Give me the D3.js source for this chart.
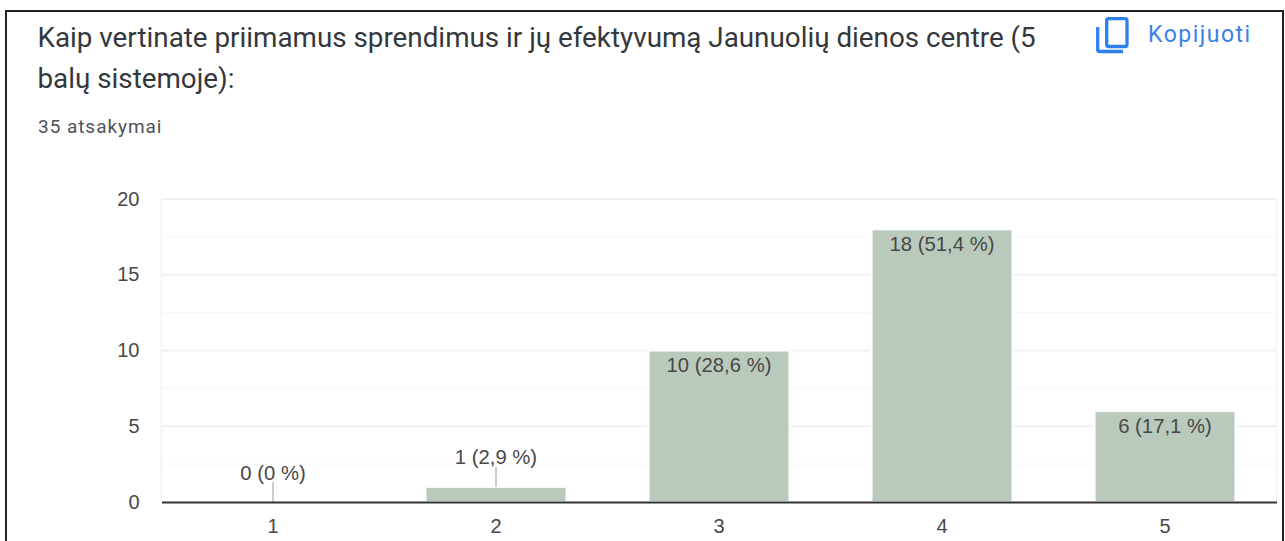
<!DOCTYPE html>
<html><head><meta charset="utf-8">
<script src="https://cdn.jsdelivr.net/npm/d3@7"></script>
<style>html,body{margin:0;padding:0;background:#fff;overflow:hidden}svg{display:block}text{font-family:Roboto,sans-serif}</style>
</head><body><svg id="c" width="1285" height="541"></svg>
<script>
const categories=["1","2","3","4","5"];
const counts=[0,1,10,18,6];
const labels=["0 (0 %)","1 (2,9 %)","10 (28,6 %)","18 (51,4 %)","6 (17,1 %)"];
const yTicks=[0,5,10,15,20];
const minorTicks=[2.5,7.5,12.5,17.5];
const titleLines=["Kaip vertinate priimamus sprendimus ir jų efektyvumą Jaunuolių dienos centre (5","balų sistemoje):"];
const subtitle="35 atsakymai";
const copyLabel="Kopijuoti";

const svg=d3.select("#c");
const x=d3.scaleBand().domain(categories).range([161.5,1276.5]).paddingInner(0.368).paddingOuter(0.184);
const y=d3.scaleLinear().domain([0,20]).range([502,199]);

// frame
svg.append("path").attr("d","M6,541V11H1283V541").attr("fill","none").attr("stroke","#222").attr("stroke-width",2);

// title
svg.selectAll("text.t").data(titleLines).join("text").attr("class","t")
  .attr("x",37.5).attr("y",(d,i)=>47+i*41).attr("font-size",27.8).attr("fill","#34383c").text(d=>d);
svg.append("text").attr("x",38).attr("y",133).attr("font-size",19).attr("letter-spacing",0.95).attr("fill","#4f5256").text(subtitle);

// copy button
const ic=svg.append("g").attr("fill","none").attr("stroke","#2f80ed").attr("stroke-width",3.3);
ic.append("rect").attr("x",1106.7).attr("y",18.7).attr("width",20.3).attr("height",27.8).attr("rx",2);
ic.append("path").attr("d","M1097.7,27V50a1.5,1.5 0 0 0 1.5,1.5H1123");
svg.append("text").attr("x",1148).attr("y",41.5).attr("font-size",23).attr("font-family","Roboto").attr("font-weight",400).attr("letter-spacing",1.5).attr("fill","#3b82e8").text(copyLabel);

// grid
const g=svg.append("g");
g.selectAll("line.mi").data(minorTicks).join("line").attr("class","mi")
  .attr("x1",161.5).attr("x2",1276.5).attr("y1",d=>y(d)).attr("y2",d=>y(d)).attr("stroke","#f6f6f6").attr("stroke-width",1);
g.selectAll("line.ma").data(yTicks.filter(d=>d>0)).join("line").attr("class","ma")
  .attr("x1",161.5).attr("x2",1276.5).attr("y1",d=>y(d)).attr("y2",d=>y(d)).attr("stroke","#f1f1f1").attr("stroke-width",2);
g.append("line").attr("x1",161.5).attr("x2",161.5).attr("y1",y(20)).attr("y2",y(0)).attr("stroke","#f3f3f3").attr("stroke-width",1.5);
g.append("line").attr("x1",1276.5).attr("x2",1276.5).attr("y1",y(20)).attr("y2",y(0)).attr("stroke","#f3f3f3").attr("stroke-width",1.5);

// bars
svg.selectAll("rect.b").data(categories).join("rect").attr("class","b")
  .attr("x",d=>x(d)).attr("width",x.bandwidth())
  .attr("y",(d,i)=>y(counts[i])).attr("height",(d,i)=>y(0)-y(counts[i]))
  .attr("fill","#b9cabc").attr("stroke","#fff").attr("stroke-width",2);

// leader lines for small bars
const small=categories.map((c,i)=>({c,i})).filter(d=>counts[d.i]<=1);
svg.selectAll("line.l").data(small).join("line").attr("class","l")
  .attr("x1",d=>x(d.c)+x.bandwidth()/2).attr("x2",d=>x(d.c)+x.bandwidth()/2)
  .attr("y1",d=>y(counts[d.i])).attr("y2",d=>y(counts[d.i])-20).attr("stroke","#bdbdbd").attr("stroke-width",1.5);

// labels
svg.selectAll("text.v").data(categories).join("text").attr("class","v")
  .attr("x",d=>x(d)+x.bandwidth()/2)
  .attr("y",(d,i)=>counts[i]<=1?y(counts[i])-22.5:y(counts[i])+21.5)
  .attr("text-anchor","middle").style("font-family","'Liberation Sans'").attr("font-size",20.3).attr("fill","#484848")
  .text((d,i)=>labels[i]);

// axes
const ax=d3.axisBottom(x).tickSize(0).tickPadding(0);
const xg=svg.append("g").attr("transform",`translate(0,${y(0)})`).call(ax);
xg.select(".domain").attr("stroke","#333").attr("stroke-width",2);
xg.selectAll("text").attr("y",31).attr("dy",0).style("font-family","'Liberation Sans'").attr("font-size",20).attr("fill","#484848");
const ay=d3.axisLeft(y).tickValues(yTicks).tickSize(0).tickPadding(0);
const yg=svg.append("g").attr("transform","translate(139.5,0)").call(ay);
yg.select(".domain").remove();
yg.selectAll("text").attr("dy","0.3em").style("font-family","'Liberation Sans'").attr("font-size",20).attr("fill","#484848");
</script></body></html>
